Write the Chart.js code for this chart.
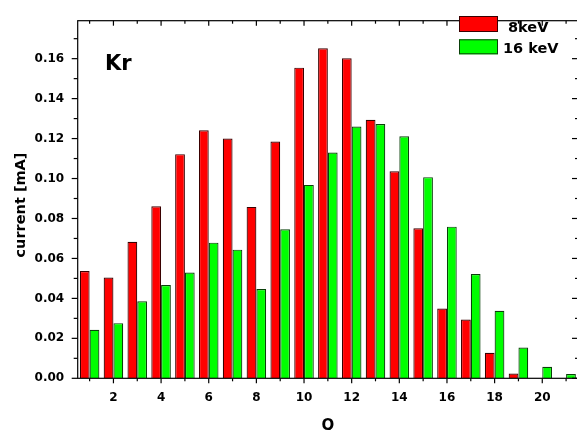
<!DOCTYPE html>
<html><head><meta charset="utf-8">
<script src="https://cdn.jsdelivr.net/npm/chart.js@4/dist/chart.umd.min.js"></script>
<style>html,body{margin:0;padding:0;overflow:hidden;background:#fff}#w{width:590px;height:430px}</style>
</head><body><div id="w"><canvas id="c" width="590" height="430" style="width:590px;height:430px"></canvas></div>
<script>
const categories = ['1','2','3','4','5','6','7','8','9','10','11','12','13','14','15','16','17','18','19','20','21'];
const series8keV = [0.0537,0.0504,0.0683,0.0861,0.1122,0.1242,0.1200,0.0858,0.1185,0.1555,0.1652,0.1602,0.1294,0.1036,0.0751,0.0349,0.0294,0.0128,0.0024,0,0];
const series16keV = [0.0243,0.0276,0.0386,0.0467,0.0529,0.0679,0.0644,0.0447,0.0746,0.0968,0.1130,0.1260,0.1273,0.1211,0.1007,0.0759,0.0522,0.0338,0.0154,0.0058,0.0021];
const yTickValues = [0,0.02,0.04,0.06,0.08,0.10,0.12,0.14,0.16];
const xTickLabels = ['2','4','6','8','10','12','14','16','18','20'];
const seriesLabels = ['8keV','16 keV'];

Chart.defaults.font.family = 'DejaVu Sans';
Chart.defaults.font.weight = 'bold';
Chart.defaults.color = '#000';

const decor = {
  id: 'decor',
  afterDraw(chart) {
    const ctx = chart.ctx, a = chart.chartArea, xs = chart.scales.x, ys = chart.scales.y;
    ctx.save();
    ctx.strokeStyle = '#000';
    ctx.lineWidth = 1.2;
    const line = (x1, y1, x2, y2) => { ctx.beginPath(); ctx.moveTo(x1, y1); ctx.lineTo(x2, y2); ctx.stroke(); };
    ctx.strokeRect(a.left, a.top, a.right - a.left, a.bottom - a.top);
    categories.forEach((c, i) => {
      const px = xs.getPixelForValue(i);
      const L = xTickLabels.includes(c) ? 5 : 3;
      line(px, a.bottom, px, a.bottom + L);
      line(px, a.top, px, a.top + L);
    });
    const step = yTickValues[1] - yTickValues[0];
    const minor = [];
    yTickValues.forEach(v => { const m = v + step / 2; if (m <= ys.max) minor.push(m); });
    yTickValues.forEach(v => { const py = ys.getPixelForValue(v); line(a.left - 6, py, a.left, py); line(a.right - 6, py, a.right, py); });
    minor.forEach(v => { const py = ys.getPixelForValue(v); line(a.left - 4, py, a.left, py); line(a.right - 3, py, a.right, py); });
    // y title
    ctx.fillStyle = '#000';
    ctx.font = 'bold 14.5px "DejaVu Sans"';
    ctx.save();
    ctx.translate(21, 205);
    ctx.rotate(-Math.PI / 2);
    ctx.textAlign = 'center';
    ctx.textBaseline = 'middle';
    ctx.fillText('current [mA]', 0, 0);
    ctx.restore();
    // Kr
    ctx.font = 'bold 21px "DejaVu Sans"';
    ctx.textAlign = 'left';
    ctx.textBaseline = 'alphabetic';
    ctx.fillText('Kr', 105, 69.5);
    // legend
    const ds = chart.data.datasets;
    const boxes = [[459, 16, 39, 16, 508, 31.7], [459, 39.3, 39, 15, 503, 53.3]];
    ds.forEach((d, i) => {
      const b = boxes[i];
      ctx.fillStyle = d.backgroundColor;
      ctx.fillRect(b[0], b[1], b[2], b[3]);
      ctx.strokeStyle = d.borderColor;
      ctx.lineWidth = 1;
      ctx.strokeRect(b[0] + 0.5, b[1] + 0.5, b[2] - 1, b[3] - 1);
      ctx.fillStyle = '#000';
      ctx.font = 'bold 14.5px "DejaVu Sans"';
      ctx.fillText(d.label, b[4], b[5]);
    });
    ctx.restore();
  }
};

new Chart(document.getElementById('c'), {
  type: 'bar',
  data: {
    labels: categories,
    datasets: [
      { label: seriesLabels[0], data: series8keV, backgroundColor: '#ff0000', borderColor: '#3a0000', borderWidth: 1.2 },
      { label: seriesLabels[1], data: series16keV, backgroundColor: '#00ff00', borderColor: '#0a400a', borderWidth: 1.2 }
    ]
  },
  options: {
    responsive: false,
    animation: false,
    devicePixelRatio: 1,
    barPercentage: 1,
    categoryPercentage: 0.82,
    layout: { padding: { left: 0, right: 12, top: 10.5, bottom: 0 } },
    plugins: { legend: { display: false }, tooltip: { enabled: false } },
    scales: {
      x: {
        type: 'category',
        offset: true,
        grid: { display: false, drawTicks: false },
        border: { display: false },
        ticks: {
          autoSkip: false, maxRotation: 0, padding: 12,
          font: { size: 12, weight: 'bold' },
          callback: function(v, i) { const c = categories[i]; return xTickLabels.includes(c) ? c : ''; }
        },
        title: { display: true, text: 'Q', font: { size: 15, weight: 'bold', lineHeight: 0.55 }, padding: { top: 0, bottom: 0 } },
        afterFit(s) { s.height = 51.7; }
      },
      y: {
        min: 0, max: 0.179,
        grid: { display: false, drawTicks: false },
        border: { display: false },
        ticks: { padding: 13.5, font: { size: 12, weight: 'bold' }, callback: v => Number(v).toFixed(2) },
        afterBuildTicks(s) { s.ticks = yTickValues.map(v => ({ value: v })); },
        afterFit(s) { s.width = 77.7; }
      }
    }
  },
  plugins: [decor]
});
</script>
</body></html>
